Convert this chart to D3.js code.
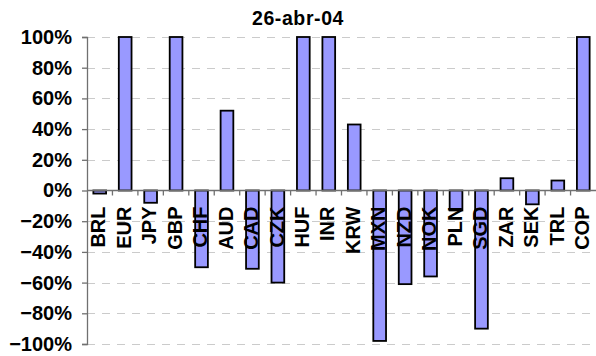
<!DOCTYPE html>
<html>
<head>
<meta charset="utf-8">
<script src="https://cdn.jsdelivr.net/npm/d3@7"></script>
<style>
  html, body { margin: 0; padding: 0; background: #fff; }
  svg { display: block; }
  text { font-family: "Liberation Sans", Arial, sans-serif; font-weight: bold; fill: #000; }
</style>
</head>
<body>
<svg id="chart" width="596" height="356"></svg>
<script>
// Currency positions on the reporting date
const title = "26-abr-04";
const currencies = ["BRL", "EUR", "JPY", "GBP", "CHF", "AUD", "CAD", "CZK", "HUF", "INR",
                    "KRW", "MXN", "NZD", "NOK", "PLN", "SGD", "ZAR", "SEK", "TRL", "COP"];
const values = [-0.02, 1.00, -0.08, 1.00, -0.50, 0.52, -0.51, -0.60, 1.00, 1.00,
                0.43, -0.98, -0.61, -0.56, -0.13, -0.90, 0.08, -0.09, 0.065, 1.00];
const yTicks = [-1, -0.8, -0.6, -0.4, -0.2, 0, 0.2, 0.4, 0.6, 0.8, 1];

const svg = d3.select("#chart");
const W = 596, H = 356;
const m = { left: 87, right: 0, top: 37, bottom: 12 };

const x = d3.scaleBand()
  .domain(currencies)
  .range([m.left, W - m.right])
  .paddingInner(0.5)
  .paddingOuter(0.25);

const y = d3.scaleLinear()
  .domain([-1, 1])
  .range([H - m.bottom, m.top]);

// Title
svg.append("text")
  .attr("x", 298)
  .attr("y", 25)
  .attr("text-anchor", "middle")
  .style("font-size", "19.5px")
  .style("letter-spacing", "0.6px")
  .text(title);

// Dashed horizontal gridlines
svg.append("g")
  .selectAll("line")
  .data(yTicks.filter(d => d !== 0))
  .join("line")
  .attr("x1", m.left)
  .attr("x2", W - m.right)
  .attr("y1", d => Math.round(y(d)) + 0.5)
  .attr("y2", d => Math.round(y(d)) + 0.5)
  .attr("stroke", "#cbcbcb")
  .attr("stroke-width", 1)
  .attr("stroke-dasharray", "8,7");

// Bars
svg.append("g")
  .selectAll("rect")
  .data(currencies.map((c, i) => ({ c, v: values[i] })))
  .join("rect")
  .attr("x", d => x(d.c))
  .attr("width", x.bandwidth())
  .attr("y", d => y(Math.max(0, d.v)))
  .attr("height", d => Math.abs(y(d.v) - y(0)))
  .attr("fill", "#9999ff")
  .attr("stroke", "#000")
  .attr("stroke-width", 1.8);

// Y axis
const yAxis = d3.axisLeft(y)
  .tickValues(yTicks)
  .tickFormat(d3.format(".0%"))
  .tickSize(5)
  .tickPadding(10);

const gy = svg.append("g")
  .attr("transform", `translate(${m.left},0)`)
  .call(yAxis);
gy.select(".domain").attr("stroke", "#707070").attr("stroke-width", 1.3);
gy.selectAll(".tick line").attr("stroke", "#707070").attr("stroke-width", 1.3);
gy.selectAll(".tick text")
  .style("font-size", "20px")
  .style("font-family", "'Liberation Sans', Arial, sans-serif")
  .style("font-weight", "bold")
  .attr("fill", "#000");

// Category axis along zero, with boundary ticks pointing down
const y0 = y(0);
svg.append("line")
  .attr("x1", m.left)
  .attr("x2", W)
  .attr("y1", y0)
  .attr("y2", y0)
  .attr("stroke", "#707070")
  .attr("stroke-width", 1.3);

const bounds = currencies.map(c => x(c) - x.step() * x.paddingInner() / 2).slice(1);
svg.append("g")
  .selectAll("line")
  .data(bounds)
  .join("line")
  .attr("x1", d => d)
  .attr("x2", d => d)
  .attr("y1", y0)
  .attr("y2", y0 + 5)
  .attr("stroke", "#707070")
  .attr("stroke-width", 1.3);

// Rotated category labels, ending just below the axis
svg.append("g")
  .selectAll("text")
  .data(currencies)
  .join("text")
  .attr("transform", d => `translate(${x(d) + x.bandwidth() / 2 - 1.5},${y0 + 16}) rotate(-90)`)
  .attr("text-anchor", "end")
  .attr("dy", "0.36em")
  .style("font-size", "20px")
  .text(d => d);
</script>
</body>
</html>
